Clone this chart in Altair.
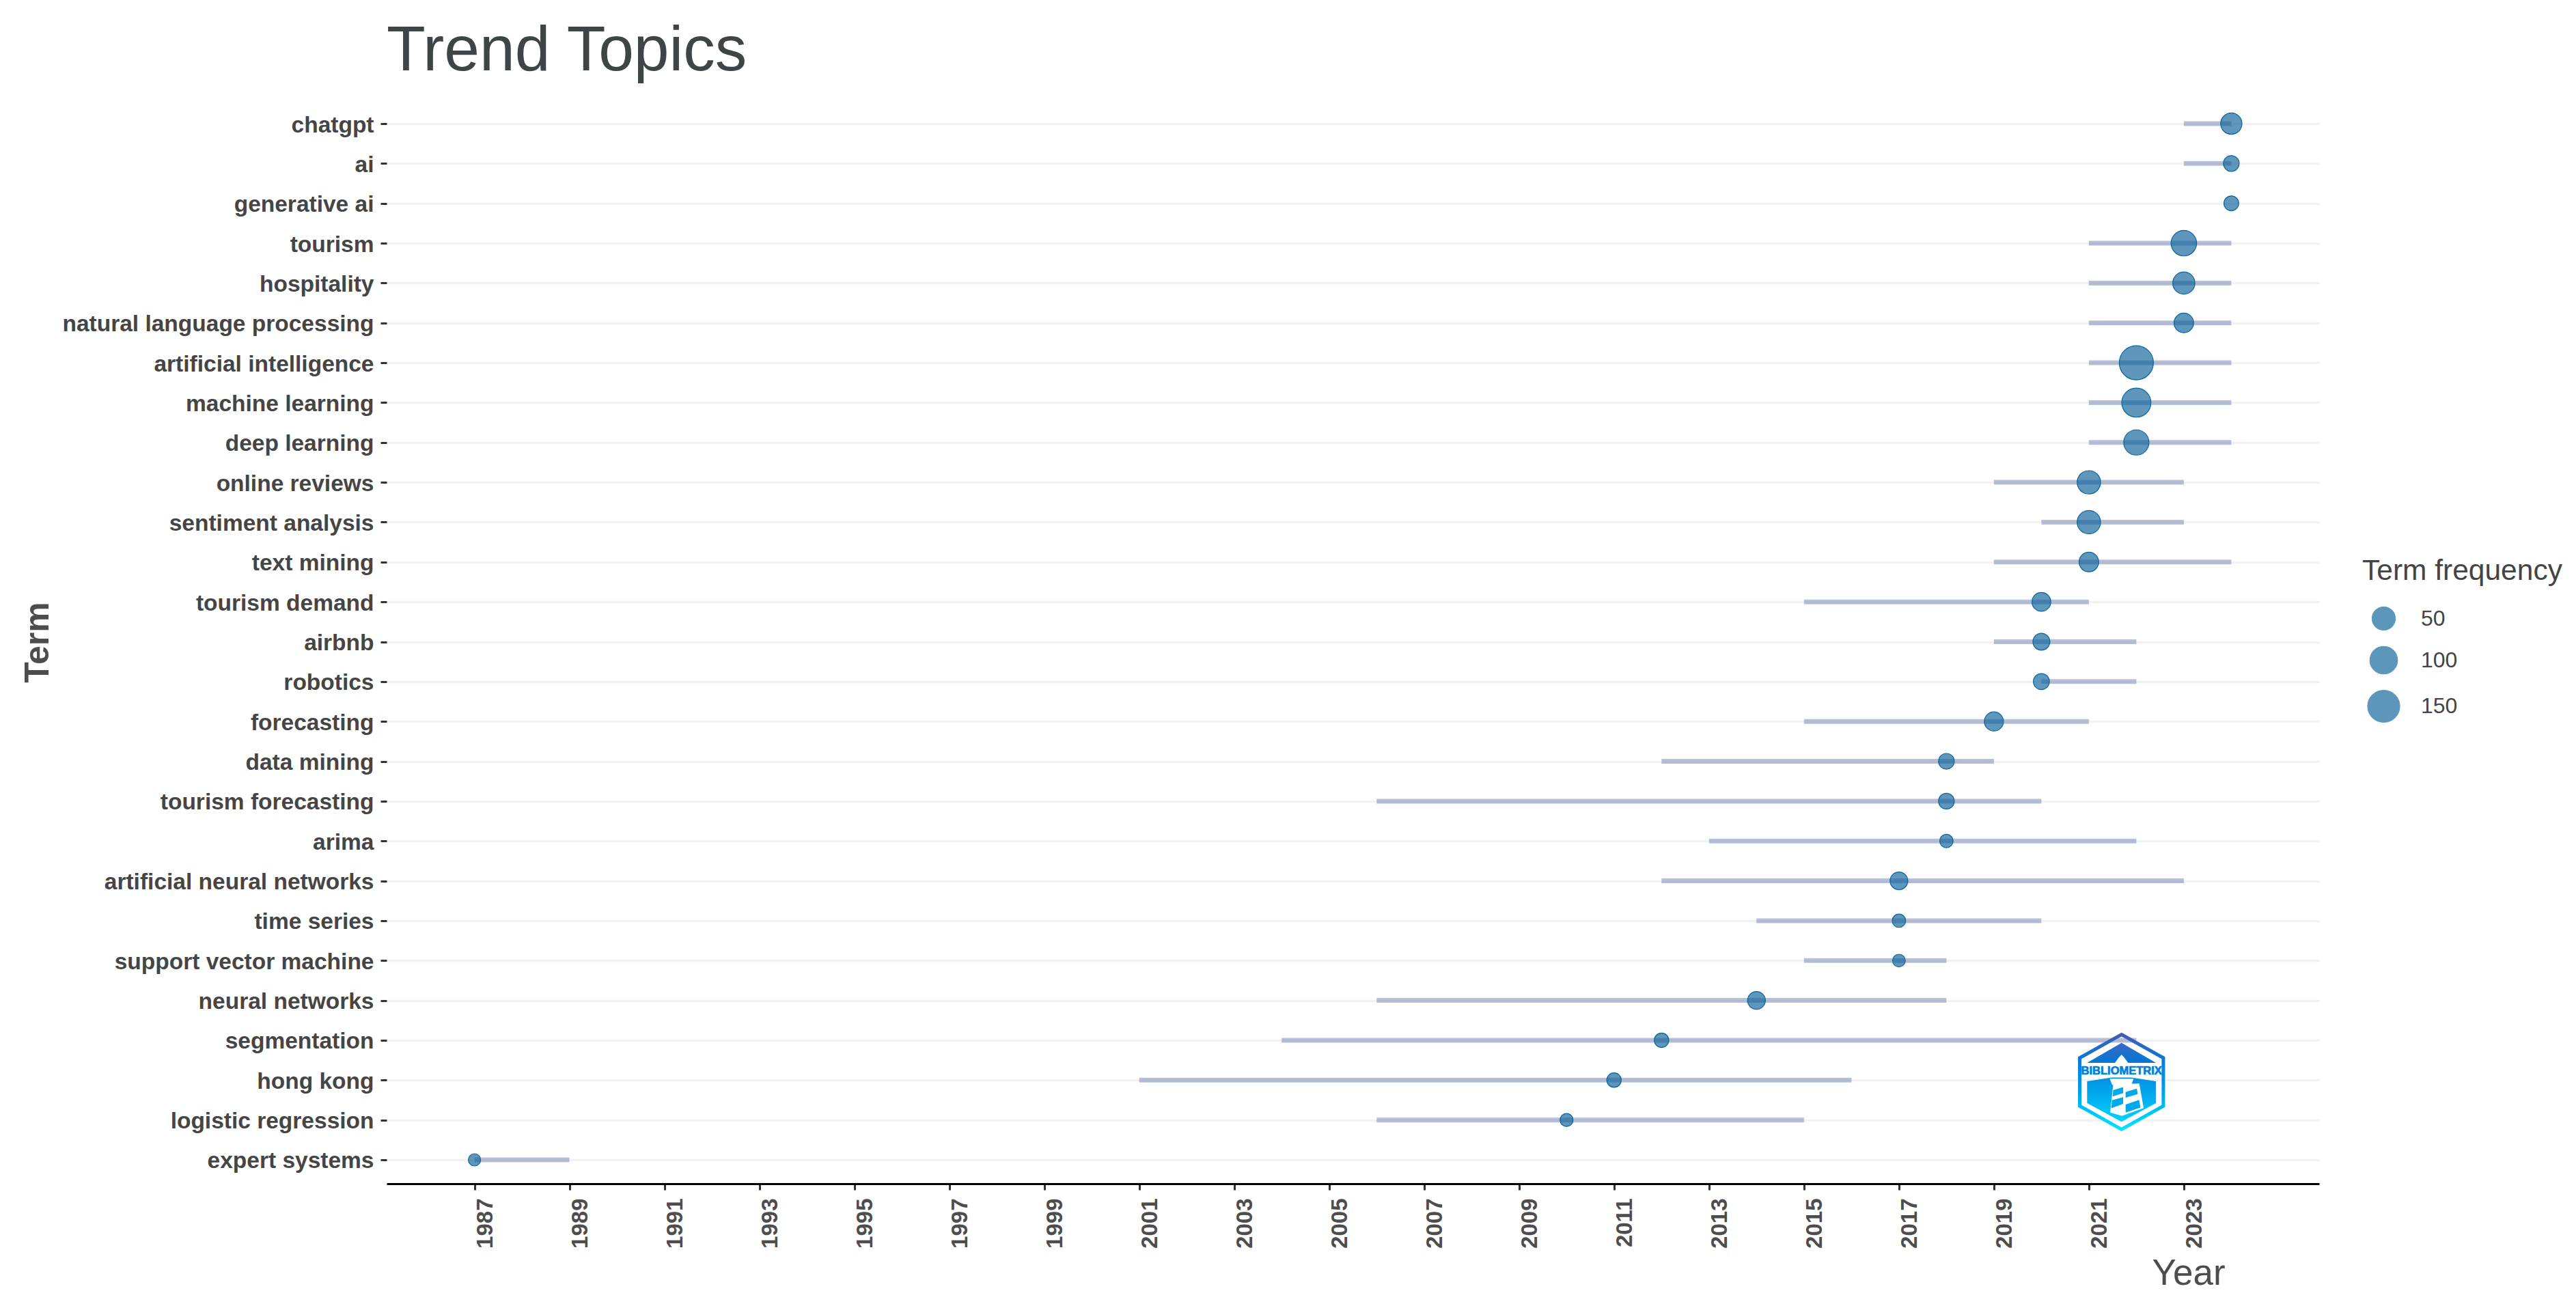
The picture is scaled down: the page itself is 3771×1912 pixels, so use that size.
import altair as alt
import pandas as pd

terms = ["chatgpt","ai","generative ai","tourism","hospitality","natural language processing",
         "artificial intelligence","machine learning","deep learning","online reviews",
         "sentiment analysis","text mining","tourism demand","airbnb","robotics","forecasting",
         "data mining","tourism forecasting","arima","artificial neural networks","time series",
         "support vector machine","neural networks","segmentation","hong kong",
         "logistic regression","expert systems"]
year_q1 = [2023,2023,2024,2021,2021,2021,2021,2021,2021,2019,2020,2019,2015,2019,2020,2015,
           2012,2006,2013,2012,2014,2015,2006,2004,2001,2006,1987]
year_q3 = [2024,2024,2024,2024,2024,2024,2024,2024,2024,2023,2023,2024,2021,2022,2022,2021,
           2019,2020,2022,2023,2020,2018,2018,2022,2016,2015,1989]
year_med = [2024,2024,2024,2023,2023,2023,2022,2022,2022,2021,2021,2021,2020,2020,2020,2019,
            2018,2018,2018,2017,2017,2017,2014,2012,2011,2010,1987]
freq = [41,20,17,75,45,34,170,116,72,52,52,34,31,24,21,32,20,20,13,27,13,11,27,16,16,12,10]
year_ticks = list(range(1987, 2024, 2))
legend_values = [50, 100, 150]
size_domain = [10, 50, 100, 150, 170]
size_range = [324, 1156, 1640, 2209, 2500]

FONT = "Liberation Sans"
PLOT_W, PLOT_H = 2829, 1587

df = pd.DataFrame({"term": terms, "q1": year_q1, "q3": year_q3, "med": year_med, "freq": freq})

x_axis = alt.Axis(values=year_ticks, format="d", grid=False, title="Year", titleFont=FONT,
                  titleFontSize=53, titleFontWeight="normal", titleColor="#4d4d4d",
                  titleX=2584, titleY=147, titleAlign="left", titleBaseline="alphabetic",
                  domainColor="black", domainWidth=3, tickColor="#333333", tickWidth=3, tickSize=9,
                  labelFont=FONT, labelFontSize=33, labelFontWeight="bold", labelColor="#4d4d4d",
                  labelAngle=270, labelAlign="right", labelBaseline="top", labelPadding=12,
                  labelOverlap=False, labelFlush=False, labelBound=False)
y_axis = alt.Axis(domain=False, grid=True, gridColor="#f2f2f2", gridWidth=3.5, title="Term",
                  titleFont=FONT, titleFontSize=50, titleFontWeight="bold", titleColor="#4d4d4d",
                  titleX=-496, titleY=794, titleAngle=270, titleAlign="center",
                  titleBaseline="alphabetic", tickColor="#333333", tickWidth=3, tickSize=9,
                  labelFont=FONT, labelFontSize=33.5, labelFontWeight="bold", labelColor="#454545",
                  labelPadding=10, labelOverlap=False, labelBound=False, labelLimit=1000, labelOffset=2)
x_enc = alt.Scale(domain=[1985.15, 2025.85], nice=False, zero=False)
y_enc = alt.Y("term:N", sort=terms, axis=y_axis, scale=alt.Scale(type="point", padding=0.6))

lines = alt.Chart(df).mark_rule(color="#6B7DAE", opacity=0.48, strokeWidth=7, strokeCap="butt").encode(
    x=alt.X("q1:Q", scale=x_enc, axis=x_axis),
    x2="q3:Q",
    y=y_enc,
)
points = alt.Chart(df).mark_point(filled=True, fill="#0A6099", fillOpacity=0.66, stroke="#0A649C",
                                  strokeOpacity=1, strokeWidth=1.2).encode(
    x=alt.X("med:Q", scale=x_enc, axis=x_axis),
    y=y_enc,
    size=alt.Size("freq:Q", scale=alt.Scale(domain=size_domain, range=size_range),
                  legend=alt.Legend(title="Term frequency", values=legend_values, orient="none",
                                    legendX=2892, legendY=669, titleFont=FONT, titleFontSize=42.5,
                                    titleFontWeight="normal", titleColor="#444444", titlePadding=30,
                                    titleLimit=1000, labelLimit=1000,
                                    labelFont=FONT, labelFontSize=32, labelColor="#444444",
                                    labelOffset=30, symbolOffset=7, rowPadding=18,
                                    symbolOpacity=0.66, symbolStrokeWidth=1.2, symbolType="circle")),
)

# BIBLIOMETRIX logo
HEX = "M0,-.965L.85,-.49L.85,.49L0,.965L-.85,.49L-.85,-.49Z"
TOP = "M0,-.796L.70,-.39L.15,-.39L-.15,-.39L-.70,-.39Z"
BOTTOM = "M-.70,-.015L-.2,-.09L.2,-.09L.70,-.015L.70,.43L0,.81L-.70,.43Z"
DOME = "M0,-.556L-.055,-.495L-.125,-.403L-.162,-.31L.162,-.31L.125,-.403L.055,-.495Z"
LAMP = "M-.24,-.065L.245,-.065L.2,.06L-.19,.06Z"
BODY = "M-.17,.05L.36,.03L.45,.53L.01,.69L-.23,.62Z"
STRIPES = ("M-.171,.165L.033,.105L.033,.225L-.181,.295Z"
           "M.083,.205L.311,.135L.329,.245L.083,.32Z"
           "M-.194,.37L.033,.31L.033,.445L-.208,.535Z"
           "M.083,.46L.357,.365L.385,.52L.083,.62Z")
LOGO_X, LOGO_Y, LOGO_SIZE = 3105.7 - 566, 1584 - 146, 144 ** 2


def grad(*stops):
    return alt.LinearGradient(gradient="linear", x1=0, y1=0, x2=0, y2=1,
                              stops=[alt.GradientStop(offset=o, color=c) for o, c in stops])


def logo_part(shape, **kw):
    return alt.Chart(pd.DataFrame({"a": [0]})).mark_point(shape=shape, size=LOGO_SIZE, opacity=1, **kw).encode(
        x=alt.value(LOGO_X), y=alt.value(LOGO_Y))


logo = [
    logo_part(HEX, filled=True, fill="#ffffff", fillOpacity=0.0, stroke=grad((0, "#4559B8"), (0.25, "#0A78D6"), (0.6, "#00A0EC"), (1, "#00E5FF")), strokeWidth=5),
    logo_part(TOP, filled=True, fill=grad((0, "#3F66C4"), (1, "#0078D4")), strokeWidth=0),
    logo_part(BOTTOM, filled=True, fill=grad((0, "#0090E4"), (1, "#00D4FC")), strokeWidth=0),
    logo_part(DOME, filled=True, fill="#ffffff", strokeWidth=0),
    logo_part(LAMP, filled=True, fill="#ffffff", strokeWidth=0),
    logo_part(BODY, filled=True, fill="#ffffff", strokeWidth=0),
    logo_part(STRIPES, filled=True, fill="#00A8EC", strokeWidth=0),
    alt.Chart(pd.DataFrame({"a": [0]})).mark_text(text="BIBLIOMETRIX", font=FONT, fontWeight="bold", fontSize=16.5,
                                                  color="#0080DC", stroke="#0080DC", strokeWidth=0.7,
                                                  baseline="middle", align="center").encode(
        x=alt.value(LOGO_X), y=alt.value(1568 - 146)),
]

chart = alt.layer(lines, points, *logo).properties(
    width=PLOT_W, height=PLOT_H, background="white",
    title=alt.TitleParams("Trend Topics", anchor="start", frame="group", font=FONT, fontSize=93,
                          fontWeight="normal", color="#3f4447", baseline="alphabetic", offset=38, dy=88),
    autosize=alt.AutoSizeParams(type="none"),
    padding={"left": 558, "top": 138, "right": 360, "bottom": 165},
).configure_view(strokeWidth=0, strokeOpacity=0)

chart.save("out.html", embed_options={"renderer": "svg", "actions": False})
